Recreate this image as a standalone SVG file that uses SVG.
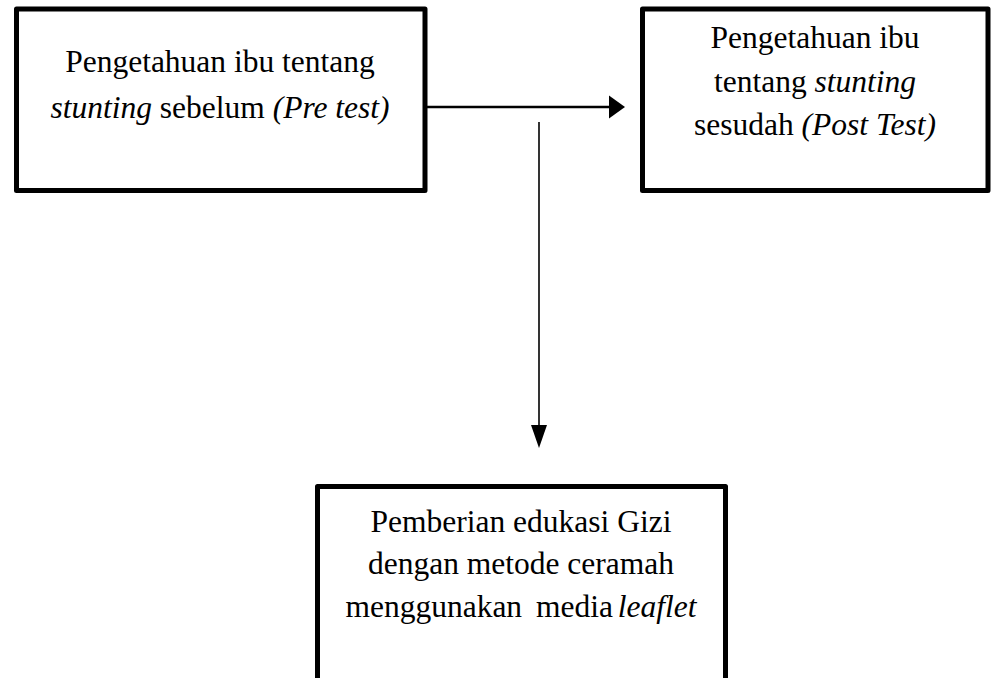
<svg xmlns="http://www.w3.org/2000/svg" width="991" height="678" viewBox="0 0 991 678">
  <style>
    .box { fill: #ffffff; stroke: #000000; stroke-width: 5; stroke-linejoin: round; }
    .lbl { font-family: "Liberation Serif", "Times New Roman", serif; font-size: 31.5px; fill: #000000; text-anchor: middle; }
    .it { font-style: italic; }
    .conn { stroke: #000000; fill: none; }
  </style>
  <defs>
    <marker id="arrH" markerUnits="userSpaceOnUse" markerWidth="16" markerHeight="23" refX="0" refY="11.5" orient="auto" overflow="visible">
      <path d="M0,0 L16,11.5 L0,23 Z" fill="#000000"/>
    </marker>
    <marker id="arrV" markerUnits="userSpaceOnUse" markerWidth="23" markerHeight="16" refX="0" refY="8" orient="auto" overflow="visible">
      <path d="M0,0 L23,8 L0,16 Z" fill="#000000"/>
    </marker>
  </defs>
  <rect x="0" y="0" width="991" height="678" fill="#ffffff"/>

  <g id="connectors">
    <line class="conn" x1="425" y1="107" x2="609" y2="107" stroke-width="2.5" marker-end="url(#arrH)"/>
    <line class="conn" x1="539" y1="122" x2="539" y2="425" stroke-width="1.6" marker-end="url(#arrV)"/>
  </g>

  <g id="node-pretest">
    <rect class="box" x="16.5" y="9" width="408.5" height="181.5"/>
    <text class="lbl" x="220" y="72">Pengetahuan ibu tentang</text>
    <text class="lbl" x="220" y="118"><tspan class="it">stunting</tspan> sebelum <tspan class="it">(Pre test)</tspan></text>
  </g>

  <g id="node-posttest">
    <rect class="box" x="642.5" y="9" width="345.5" height="181.5"/>
    <text class="lbl" x="815" y="48">Pengetahuan ibu</text>
    <text class="lbl" x="815" y="92">tentang <tspan class="it">stunting</tspan></text>
    <text class="lbl" x="815" y="135">sesudah <tspan class="it">(Post Test)</tspan></text>
  </g>

  <g id="node-edukasi">
    <rect class="box" x="317.5" y="486.5" width="408" height="220"/>
    <text class="lbl" x="521" y="532">Pemberian edukasi Gizi</text>
    <text class="lbl" x="521" y="574">dengan metode ceramah</text>
    <text class="lbl" x="521" y="617">menggunakan <tspan dx="6">media</tspan> <tspan class="it" dx="-3">leaflet</tspan></text>
  </g>
</svg>
